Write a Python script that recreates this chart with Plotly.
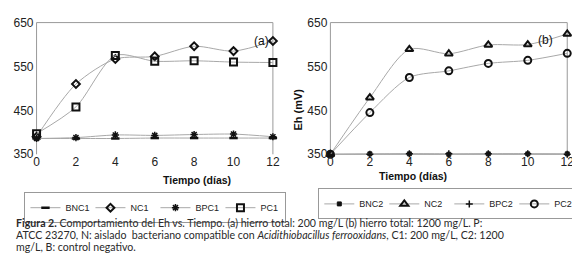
import plotly.graph_objects as go
from plotly.subplots import make_subplots

days = [0, 2, 4, 6, 8, 10, 12]
x_ticks = [0, 2, 4, 6, 8, 10, 12]
y_ticks = [350, 450, 550, 650]

# Panel (a): 200 mg/L
BNC1 = [386, 386, 386, 387, 387, 387, 387]
NC1 = [390, 510, 567, 573, 596, 585, 608]
BPC1 = [386, 388, 394, 393, 395, 396, 390]
PC1 = [397, 458, 575, 562, 563, 560, 559]

# Panel (b): 1200 mg/L
BNC2 = [350, 351, 351, 350, 351, 351, 351]
NC2 = [350, 479, 589, 579, 599, 600, 624]
BPC2 = [350, 350, 351, 351, 351, 351, 350]
PC2 = [350, 445, 525, 540, 557, 564, 580]

caption_lines = [
    "<b>Figura 2.</b> Comportamiento del Eh vs. Tiempo. (a) hierro total: 200 mg/L (b) hierro total: 1200 mg/L. P:",
    "ATCC 23270, N: aislado  bacteriano compatible con <i>Acidithiobacillus ferrooxidans</i>, C1: 200 mg/L, C2: 1200",
    "mg/L, B: control negativo.",
]

W, H = 580, 267
def px_x(p): return p / W
def px_y(p): return 1 - p / H

LINE = dict(color="#a8a8a8", width=1, shape="spline", smoothing=0.8)
BLK = "#111111"

fig = make_subplots(rows=1, cols=2)

def add(name, y, col, legend, symbol, size, lw):
    fig.add_trace(go.Scatter(
        x=days, y=y, name=name, mode="lines+markers",
        line=LINE,
        marker=dict(symbol=symbol, size=size, color=BLK,
                    line=dict(color=BLK, width=lw)),
        cliponaxis=False, legend=legend), row=1, col=col)

add("BNC1", BNC1, 1, "legend", "line-ew-open", 6, 2.5)
add("NC1", NC1, 1, "legend", "diamond-open", 6, 2)
add("BPC1", BPC1, 1, "legend", "asterisk-open", 6, 1.5)
add("PC1", PC1, 1, "legend", "square-open", 7, 2)

add("BNC2", BNC2, 2, "legend2", "square", 4, 1)
add("NC2", NC2, 2, "legend2", "triangle-up-open", 7, 2)
add("BPC2", BPC2, 2, "legend2", "cross-thin-open", 5, 1.5)
add("PC2", PC2, 2, "legend2", "circle-open", 7, 2)

tickfont = dict(family="Liberation Sans, Arial, sans-serif", size=12, color="#222")
ydom = [px_y(147), px_y(8)]
legfont = dict(family="Liberation Sans, Arial, sans-serif", size=9, color="#222")

axcommon = dict(showgrid=False, zeroline=False, showline=False, ticks="",
                tickfont=tickfont)
fig.update_layout(
    width=W, height=H, margin=dict(l=0, r=0, t=0, b=0),
    paper_bgcolor="white", plot_bgcolor="white",
    xaxis=dict(domain=[px_x(26), px_x(266.5)], range=[0, 12], tickvals=x_ticks,
               ticklabelstandoff=-1, **axcommon),
    xaxis2=dict(domain=[px_x(325), px_x(566)], range=[0, 12], tickvals=x_ticks,
                ticklabelstandoff=-1, **axcommon),
    yaxis=dict(domain=ydom, range=[350, 650], tickvals=y_ticks, ticklabelstandoff=2, **axcommon),
    yaxis2=dict(domain=ydom, range=[350, 650], tickvals=y_ticks, ticklabelstandoff=2, **axcommon),
    legend=dict(orientation="h", x=px_x(147), xanchor="center", y=px_y(187), yanchor="top",
                bordercolor="#999", borderwidth=1, itemwidth=30, font=legfont,
                entrywidth=20, entrywidthmode="pixels",
                tracegroupgap=0, itemclick=False),
    legend2=dict(orientation="h", x=px_x(446), xanchor="center", y=px_y(183), yanchor="top",
                 bordercolor="#999", borderwidth=1, itemwidth=30, font=legfont,
                 entrywidth=20, entrywidthmode="pixels",
                 tracegroupgap=0, itemclick=False),
    showlegend=True,
)

# frames (top, left, right; bottom on panel b) drawn relative to axes domain
for xr, yr, bottom in (("x domain", "y domain", False), ("x2 domain", "y2 domain", True)):
    segs = [(0, 1, 1, 1), (0, 0, 0, 1), (1, 0, 1, 1)] + ([(0, 0, 1, 0)] if bottom else [])
    for (x0, y0, x1, y1) in segs:
        fig.add_shape(type="line", xref=xr, yref=yr, x0=x0, y0=y0, x1=x1, y1=y1,
                      line=dict(color="#9a9a9a", width=1), layer="below")

lab = dict(family="Liberation Sans, Arial, sans-serif", size=10.5, color="#111")
fig.add_annotation(text="(a)", x=px_x(255), y=px_y(18), xref="paper", yref="paper",
                   showarrow=False, font=dict(family="Liberation Sans, Arial, sans-serif", size=12, color="#111"))
fig.add_annotation(text="(b)", x=px_x(554), y=px_y(17), xref="paper", yref="paper",
                   showarrow=False, font=dict(family="Liberation Sans, Arial, sans-serif", size=12, color="#111"))
fig.add_annotation(text="<b>Tiempo (días)</b>", x=px_x(153), y=px_y(174), xref="paper", yref="paper",
                   showarrow=False, font=lab)
fig.add_annotation(text="<b>Tiempo (días)</b>", x=px_x(446), y=px_y(170), xref="paper", yref="paper",
                   showarrow=False, font=lab)
fig.add_annotation(text="<b>Eh (mV)</b>", x=px_x(292.5), y=px_y(75), xref="paper", yref="paper",
                   showarrow=False, textangle=-90, font=dict(family="Liberation Sans, Arial, sans-serif", size=11, color="#111"))

for i, line in enumerate(caption_lines):
    fig.add_annotation(text=line, x=px_x(3), y=px_y(219 + 13 * i), xref="paper", yref="paper",
                       xanchor="left", yanchor="middle", align="left", showarrow=False,
                       font=dict(family="Lato, sans-serif", size=10.6, color="#2a2a2a"))

fig.write_html("out.html")
